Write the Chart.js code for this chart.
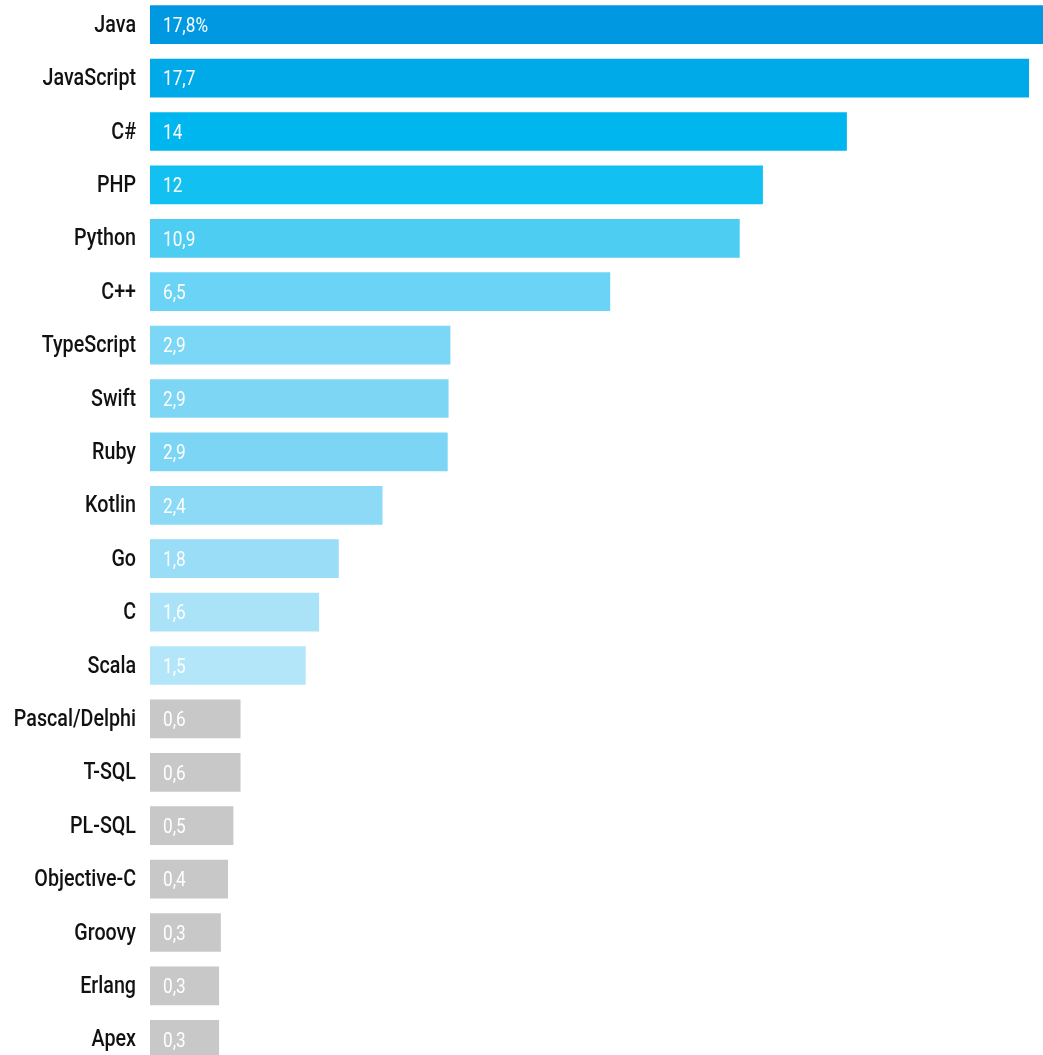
<!DOCTYPE html>
<html lang="en">
<head>
<meta charset="UTF-8">
<title>Languages</title>
<script src="https://cdn.jsdelivr.net/npm/chart.js@4/dist/chart.umd.min.js"></script>
<style>
  html, body { margin: 0; padding: 0; background: #fff; overflow: hidden; }
  #wrap { position: relative; width: 1043px; height: 1068px; margin-top: -2px; }
</style>
</head>
<body>
<div id="wrap"><canvas id="myChart"></canvas></div>
<script>
// languages, top to bottom
const languages = ['Java', 'JavaScript', 'C#', 'PHP', 'Python', 'C++', 'TypeScript', 'Swift', 'Ruby',
  'Kotlin', 'Go', 'C', 'Scala', 'Pascal/Delphi', 'T-SQL', 'PL-SQL', 'Objective-C', 'Groovy', 'Erlang', 'Apex'];

// share, % (the labels written in the bars)
const shares = ['17,8%', '17,7', '14', '12', '10,9', '6,5', '2,9', '2,9', '2,9',
  '2,4', '1,8', '1,6', '1,5', '0,6', '0,6', '0,5', '0,4', '0,3', '0,3', '0,3'];

// bar length as drawn in the picture (Java = 100), the picture is not to scale
const barLengths = [100, 98.4, 78.0, 68.6, 66.0, 51.5, 33.6, 33.4, 33.3,
  26.0, 21.1, 18.9, 17.4, 10.1, 10.1, 9.3, 8.7, 7.9, 7.7, 7.7];

const barColors = ['#0098e1', '#00aae9', '#00b6ef', '#12c1f1', '#4ecdf2', '#6bd3f5', '#7cd6f5', '#7ed6f5', '#7dd5f5',
  '#8ddaf6', '#99ddf7', '#aae2f8', '#b4e6f9', '#c8c8c8', '#c8c8c8', '#c8c8c8', '#c8c8c8', '#c8c8c8', '#c8c8c8', '#c8c8c8'];

// the font in the picture is narrow, so the text gets squeezed a bit
const squeeze = 0.82;

// writes the language names left of the bars and the share inside each bar
const barTexts = {
  id: 'barTexts',
  afterDatasetsDraw(chart) {
    const ctx = chart.ctx;
    const meta = chart.getDatasetMeta(0);
    ctx.save();
    ctx.textBaseline = 'middle';
    meta.data.forEach((bar, i) => {
      // name
      ctx.save();
      ctx.translate(bar.base - 14, bar.y + 1);
      ctx.scale(squeeze, 1);
      ctx.fillStyle = '#111111';
      ctx.font = '500 24px Roboto';
      ctx.textAlign = 'right';
      ctx.fillText(languages[i], 0, 0);
      ctx.restore();
      // value
      ctx.save();
      ctx.translate(bar.base + 13, bar.y + 2);
      ctx.scale(squeeze, 1);
      ctx.fillStyle = '#ffffff';
      ctx.font = '21px Roboto';
      ctx.textAlign = 'left';
      ctx.fillText(shares[i], 0, 0);
      ctx.restore();
    });
    ctx.restore();
  }
};

let ctx = document.getElementById('myChart').getContext('2d');
let langChart = new Chart(ctx, {
  type: 'bar',
  data: {
    labels: languages,
    datasets: [{
      data: barLengths,
      backgroundColor: barColors,
      borderWidth: 0,
      barThickness: 38
    }]
  },
  options: {
    indexAxis: 'y',
    responsive: true,
    maintainAspectRatio: false,
    animation: false,
    layout: { padding: 0 },
    plugins: {
      legend: { display: false },
      tooltip: { enabled: false }
    },
    scales: {
      x: {
        display: false,
        min: 0,
        max: 100
      },
      y: {
        grid: { display: false },
        border: { display: false },
        ticks: { display: false },
        afterFit(scale) { scale.width = 150; }
      }
    }
  },
  plugins: [barTexts]
});
</script>
</body>
</html>
